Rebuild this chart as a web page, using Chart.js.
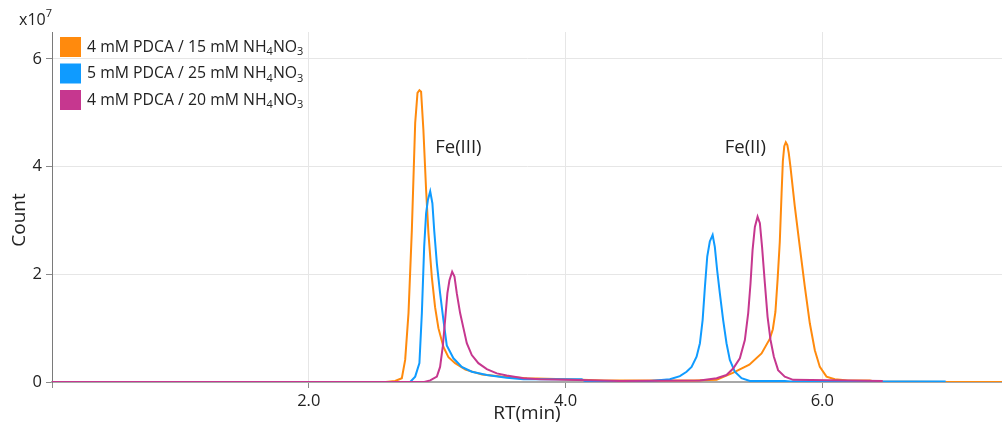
<!DOCTYPE html>
<html>
<head>
<meta charset="utf-8">
<script src="https://cdn.jsdelivr.net/npm/chart.js@4/dist/chart.umd.min.js"></script>
<style>
html,body{margin:0;padding:0;background:#fff;}
#wrap{width:1002px;height:425px;position:relative;}
</style>
</head>
<body>
<div id="wrap"><canvas id="c"></canvas></div>
<script>
// ---- data (Count in units of 1e7, RT in min) ----
const seriesNames = [
  [{t:'4 mM PDCA / 15 mM NH'},{t:'4',sub:true},{t:'NO'},{t:'3',sub:true}],
  [{t:'5 mM PDCA / 25 mM NH'},{t:'4',sub:true},{t:'NO'},{t:'3',sub:true}],
  [{t:'4 mM PDCA / 20 mM NH'},{t:'4',sub:true},{t:'NO'},{t:'3',sub:true}]
];
const peakLabels = ['Fe(III)', 'Fe(II)'];
const peakLabelRT = [2.985, 5.24];
const peakLabelCount = [4.35, 4.35];
const xTicks = [0, 2, 4, 6];
const yTicks = [0, 2, 4, 6];

const orangeRT = [0, 2.60, 2.673, 2.725, 2.751, 2.777, 2.803, 2.829, 2.847, 2.862, 2.875, 2.893, 2.914, 2.932, 2.959, 2.984, 3.010, 3.049, 3.088, 3.14, 3.22, 3.35, 3.50, 3.70, 4.00, 4.30, 5.00, 5.177, 5.303, 5.432, 5.527, 5.591, 5.615, 5.635, 5.652, 5.669, 5.683, 5.693, 5.704, 5.716, 5.728, 5.739, 5.752, 5.786, 5.825, 5.864, 5.903, 5.942, 5.981, 6.033, 6.097, 6.20, 6.370, 6.409, 7.0, 7.4];
const orangeCount = [0, 0, 0.02, 0.07, 0.41, 1.28, 2.82, 4.81, 5.37, 5.42, 5.39, 4.68, 3.57, 2.77, 1.94, 1.39, 1.00, 0.65, 0.46, 0.35, 0.23, 0.14, 0.10, 0.07, 0.05, 0.03, 0.03, 0.04, 0.17, 0.32, 0.53, 0.80, 0.98, 1.30, 1.90, 2.60, 3.50, 4.10, 4.38, 4.45, 4.40, 4.25, 4.00, 3.26, 2.51, 1.77, 1.09, 0.59, 0.28, 0.10, 0.05, 0.03, 0.03, 0.01, 0, 0];

const blueRT = [0, 2.790, 2.829, 2.862, 2.881, 2.899, 2.914, 2.928, 2.946, 2.963, 2.977, 2.998, 3.023, 3.049, 3.075, 3.127, 3.192, 3.270, 3.387, 3.542, 3.672, 4.009, 4.126, 4.152, 4.658, 4.813, 4.891, 4.943, 4.982, 5.021, 5.047, 5.068, 5.086, 5.104, 5.124, 5.146, 5.163, 5.181, 5.202, 5.228, 5.254, 5.280, 5.319, 5.371, 5.436, 5.708, 5.747, 6.961];
const blueCount = [0, 0, 0.10, 0.35, 1.28, 2.51, 3.13, 3.38, 3.54, 3.32, 2.82, 2.20, 1.65, 1.15, 0.68, 0.44, 0.28, 0.19, 0.13, 0.08, 0.05, 0.05, 0.05, 0.02, 0.02, 0.05, 0.11, 0.19, 0.28, 0.47, 0.72, 1.15, 1.77, 2.33, 2.61, 2.73, 2.51, 2.08, 1.65, 1.15, 0.72, 0.41, 0.19, 0.07, 0.02, 0.02, 0.01, 0.01];

const magentaRT = [0, 2.90, 2.946, 2.998, 3.023, 3.044, 3.062, 3.080, 3.096, 3.117, 3.135, 3.153, 3.179, 3.205, 3.231, 3.270, 3.321, 3.387, 3.465, 3.542, 3.672, 3.802, 4.009, 4.424, 5.047, 5.177, 5.254, 5.306, 5.358, 5.397, 5.423, 5.441, 5.457, 5.475, 5.496, 5.514, 5.531, 5.553, 5.574, 5.597, 5.623, 5.656, 5.708, 5.773, 6.471];
const magentaCount = [0, 0, 0.03, 0.10, 0.28, 0.66, 1.15, 1.65, 1.89, 2.05, 1.96, 1.65, 1.28, 1.00, 0.72, 0.50, 0.35, 0.24, 0.16, 0.12, 0.07, 0.05, 0.04, 0.02, 0.03, 0.07, 0.13, 0.25, 0.44, 0.78, 1.28, 1.83, 2.45, 2.88, 3.07, 2.95, 2.51, 1.83, 1.21, 0.78, 0.47, 0.22, 0.10, 0.04, 0.02];

const colors = ['#ff8a0d', '#0f9bff', '#c6378f'];

const FONT = '"Open Sans", "Noto Sans", sans-serif';
const toPts = (xs, ys) => xs.map((x, i) => ({x: x, y: ys[i]}));

const overlay = {
  id: 'overlay',
  afterDraw(chart) {
    const ctx = chart.ctx;
    const ca = chart.chartArea;
    const xs = chart.scales.x, ys = chart.scales.y;
    ctx.save();
    ctx.fillStyle = '#222';
    ctx.textBaseline = 'middle';
    // exponent label
    ctx.font = '16px ' + FONT;
    ctx.textAlign = 'left';
    ctx.fillText('x10', 19, 20);
    const w = ctx.measureText('x10').width;
    ctx.font = '11px ' + FONT;
    ctx.fillText('7', 19 + w, 14);
    // axis titles
    ctx.font = '19px ' + FONT;
    ctx.textAlign = 'center';
    ctx.fillText('RT(min)', 527, 414);
    ctx.save();
    ctx.translate(20, 220);
    ctx.rotate(-Math.PI / 2);
    ctx.fillText('Count', 0, 0);
    ctx.restore();
    // peak labels
    ctx.font = '18.5px ' + FONT;
    ctx.textAlign = 'left';
    for (let i = 0; i < peakLabels.length; i++) {
      ctx.fillText(peakLabels[i], xs.getPixelForValue(peakLabelRT[i]), ys.getPixelForValue(peakLabelCount[i]));
    }
    // legend
    for (let i = 0; i < seriesNames.length; i++) {
      const top = 37 + i * 26.5;
      ctx.fillStyle = colors[i];
      ctx.fillRect(60, top, 21, 20);
      ctx.fillStyle = '#222';
      let x = 87;
      const cy = top + 10;
      for (const seg of seriesNames[i]) {
        if (seg.sub) {
          ctx.font = '11px ' + FONT;
          ctx.fillText(seg.t, x, cy + 5);
        } else {
          ctx.font = '15.8px ' + FONT;
          ctx.fillText(seg.t, x, cy);
        }
        x += ctx.measureText(seg.t).width;
      }
    }
    ctx.restore();
  }
};

new Chart(document.getElementById('c'), {
  type: 'line',
  data: {
    datasets: [
      {label: 'orange', data: toPts(orangeRT, orangeCount), borderColor: colors[0], order: 3},
      {label: 'blue', data: toPts(blueRT, blueCount), borderColor: colors[1], order: 2},
      {label: 'magenta', data: toPts(magentaRT, magentaCount), borderColor: colors[2], order: 1}
    ]
  },
  options: {
    responsive: true,
    maintainAspectRatio: false,
    animation: false,
    devicePixelRatio: 1,
    layout: {padding: {top: 32, right: 0, left: 0, bottom: 0}},
    elements: {
      line: {borderWidth: 2, tension: 0, fill: false},
      point: {radius: 0}
    },
    plugins: {legend: {display: false}, tooltip: {enabled: false}},
    scales: {
      x: {
        type: 'linear',
        min: 0, max: 7.4,
        afterFit(s) { s.height = 43; },
        afterBuildTicks(s) { s.ticks = xTicks.map(v => ({value: v})); },
        ticks: {
          callback: v => (v === 0 ? '' : v.toFixed(1)),
          color: '#222', font: {family: FONT, size: 16.5}, padding: 3, maxRotation: 0
        },
        grid: {color: '#e6e6e6', tickColor: '#8a8a8a', tickLength: 6, lineWidth: 1},
        border: {color: '#a8a8a8', width: 2}
      },
      y: {
        min: 0, max: 6.5,
        afterFit(s) { s.width = 52; },
        afterBuildTicks(s) { s.ticks = yTicks.map(v => ({value: v})); },
        ticks: {
          callback: v => String(v),
          color: '#222', font: {family: FONT, size: 16.5}, padding: 4
        },
        grid: {color: '#e6e6e6', tickColor: '#8a8a8a', tickLength: 6, lineWidth: 1},
        border: {color: '#7a7a7a', width: 1}
      }
    }
  },
  plugins: [overlay]
});
</script>
</body>
</html>
